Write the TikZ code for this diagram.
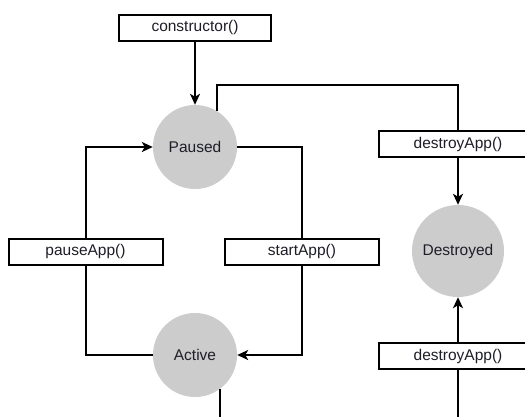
\documentclass[tikz,border=0pt]{standalone}
\usepackage{fontspec}
\setmainfont{Liberation Sans}
\usetikzlibrary{arrows.meta}
\definecolor{stategray}{HTML}{CCCCCC}
\definecolor{txt}{HTML}{1E1E28}
\begin{document}
\begin{tikzpicture}[x=1pt,y=-1pt,
  font=\fontsize{15.5}{18}\selectfont,
  every node/.style={text=txt},
  methodbox/.style={draw=black,line width=2pt,fill=white,minimum width=154pt,minimum height=26pt,inner sep=0pt},
  state/.style={circle,fill=stategray,minimum size=84pt,inner sep=0pt},
  conn/.style={line width=2pt,draw=black},
  arr/.style={conn,-{Stealth[length=11pt,width=10pt,inset=3pt]}}]
\useasboundingbox (0,0) rectangle (525,416);
\clip (0,0) rectangle (525,416);
\node[state] (P) at (195,147) {Paused};
\node[state] (A) at (195,355) {Active};
\node[state,minimum size=92pt] (D) at (458,251) {Destroyed};
\node[methodbox,minimum width=152pt] (cons) at (195,27.5) {constructor()};
\node[methodbox] (pause) at (85.5,251.5) {pauseApp()};
\node[methodbox] (start) at (302,251.5) {startApp()};
\node[methodbox,minimum width=158pt] (d1) at (458,144) {destroyApp()};
\node[methodbox,minimum width=158pt] (d2) at (458,356) {destroyApp()};
\coordinate (tr) at (458,85);
\coordinate (abot) at (219,417);
\coordinate (dbot) at (458,417);
\draw[arr] (cons.south) -- (P.north);
\draw[conn] (P.58) |- (tr) -- (d1.north);
\draw[arr] (d1.south) -- (D.north);
\draw[arr] (d2.north) -- (D.south);
\draw[conn] (d2.south) -- (dbot);
\draw[conn] (P.east) -| (start.north);
\draw[arr] (start.south) |- (A.east);
\draw[conn] (A.west) -| (pause.south);
\draw[arr] (pause.north) |- (P.west);
\draw[conn] (A.-54) -- (A.-54 |- abot);
\end{tikzpicture}
\end{document}
